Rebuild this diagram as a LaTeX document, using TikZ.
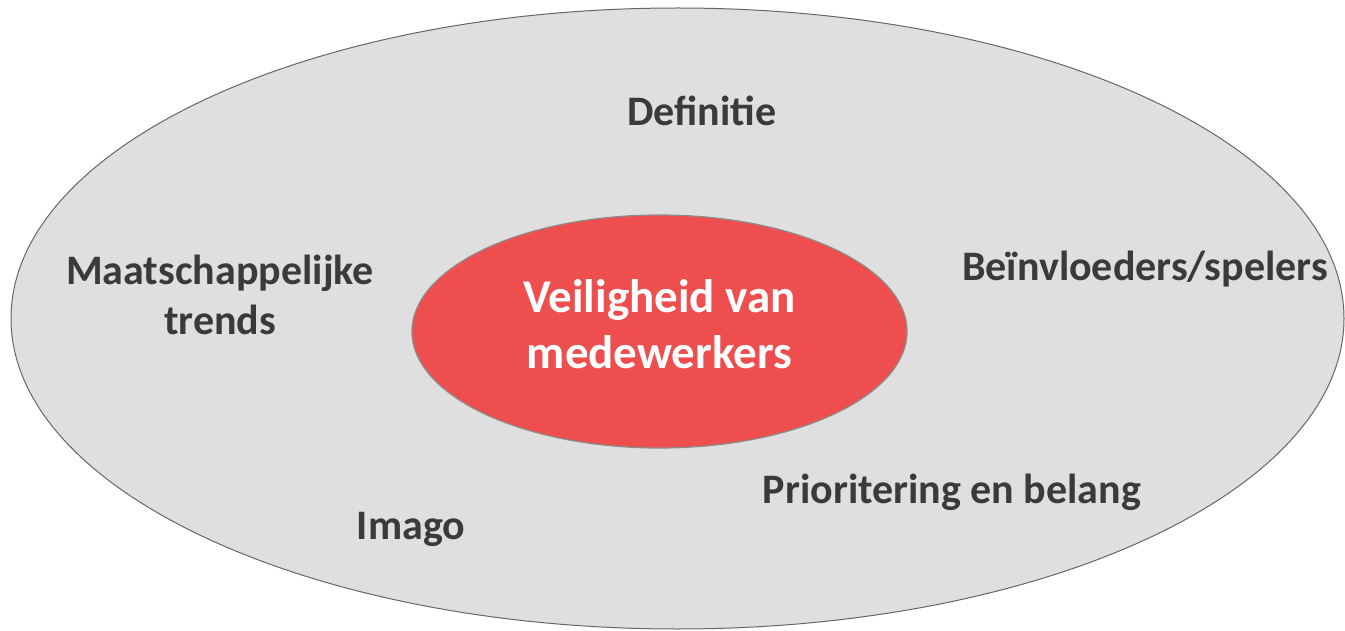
\documentclass[tikz,border=0pt]{standalone}
\usepackage{fontspec}
\setmainfont{Carlito}
\usetikzlibrary{shapes.geometric}
\definecolor{ringgray}{HTML}{DFDFDF}
\definecolor{kernred}{HTML}{EF4E4E}
\definecolor{labeltext}{HTML}{3A3A3A}

\begin{document}
\begin{tikzpicture}[x=1pt,y=-1pt,
  ring/.style={ellipse,draw=black!60,line width=1pt,fill=ringgray},
  kern/.style={ellipse,draw=black!45,line width=1.2pt,fill=kernred,
    text=white,align=center,text depth=14pt,
    font=\bfseries\fontsize{47}{56}\selectfont},
  thema/.style={text=labeltext,align=center,inner sep=0pt,
    font=\bfseries\fontsize{42}{50}\selectfont}]
  \useasboundingbox (0,0) rectangle (1345,631);
  \node[ring,minimum width=1333pt,minimum height=621pt] (omgeving) at (677.5,318.5) {};
  \node[kern,minimum width=495pt,minimum height=233pt] (veiligheid) at (659.5,331.5) {Veiligheid van\\medewerkers};
  % thema's rond de kern
  \node[thema] (definitie) at (702,111) {Definitie};
  \node[thema] (trends) at (220,295) {Maatschappelijke\\trends};
  \node[thema] (spelers) at (1145,269) {Beïnvloeders/spelers};
  \node[thema] (belang) at (952,492) {Prioritering en belang};
  \node[thema] (imago) at (411,529) {Imago};
\end{tikzpicture}
\end{document}
